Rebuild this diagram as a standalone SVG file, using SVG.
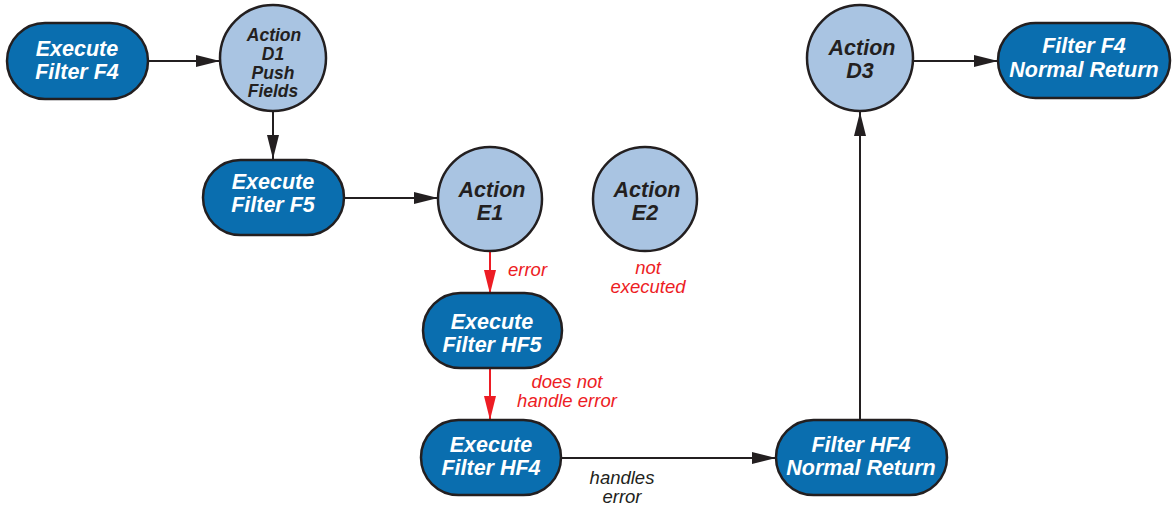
<svg xmlns="http://www.w3.org/2000/svg" width="1173" height="506" viewBox="0 0 1173 506">
  <defs>
    <marker id="ah" viewBox="0 0 24 12" refX="24" refY="6" markerWidth="24" markerHeight="12" markerUnits="userSpaceOnUse" orient="auto">
      <path d="M0,0 L24,6 L0,12 Z" fill="#231f20"/>
    </marker>
    <marker id="ahr" viewBox="0 0 24 12" refX="24" refY="6" markerWidth="24" markerHeight="12" markerUnits="userSpaceOnUse" orient="auto">
      <path d="M0,0 L24,6 L0,12 Z" fill="#ed1c24"/>
    </marker>
    <style>
      .pill { fill: #0a6eaf; stroke: #231f20; stroke-width: 2.5; }
      .act { fill: #a9c4e2; stroke: #231f20; stroke-width: 2.5; }
      .pt { font-family: "Liberation Sans", Arial, sans-serif; font-weight: bold; font-style: italic; font-size: 21.5px; fill: #ffffff; text-anchor: middle; }
      .at { font-family: "Liberation Sans", Arial, sans-serif; font-weight: bold; font-style: italic; font-size: 21.5px; fill: #231f20; text-anchor: middle; }
      .small { font-size: 17.5px; }
      .lbl { font-family: "Liberation Sans", Arial, sans-serif; font-style: italic; font-size: 18.5px; text-anchor: middle; }
      .red { fill: #ed1c24; }
      .blk { fill: #231f20; }
      .cn { fill: none; stroke: #231f20; stroke-width: 2; }
      .cr { fill: none; stroke: #ed1c24; stroke-width: 2; }
    </style>
  </defs>

  <!-- connectors -->
  <g id="connectors">
    <line class="cn" x1="148" y1="61" x2="220" y2="61" marker-end="url(#ah)"/>
    <line class="cn" x1="273" y1="112" x2="273" y2="159" marker-end="url(#ah)"/>
    <line class="cn" x1="344" y1="198" x2="438" y2="198" marker-end="url(#ah)"/>
    <line class="cr" x1="490" y1="252" x2="490" y2="294" marker-end="url(#ahr)"/>
    <line class="cr" x1="490" y1="368" x2="490" y2="420" marker-end="url(#ahr)"/>
    <line class="cn" x1="561" y1="458" x2="776" y2="458" marker-end="url(#ah)"/>
    <line class="cn" x1="860" y1="420" x2="860" y2="112" marker-end="url(#ah)"/>
    <line class="cn" x1="913" y1="61" x2="998" y2="61" marker-end="url(#ah)"/>
    <text class="lbl red" x="508" y="276" style="text-anchor:start">error</text>
    <text class="lbl red" x="567" y="388">does not</text>
    <text class="lbl red" x="567" y="407">handle error</text>
    <text class="lbl blk" x="622" y="484">handles</text>
    <text class="lbl blk" x="622" y="503">error</text>
  </g>

  <g id="exec-f4">
    <rect class="pill" x="7" y="23" width="141" height="76" rx="38"/>
    <text class="pt" x="77" y="56">Execute</text>
    <text class="pt" x="77" y="79">Filter F4</text>
  </g>

  <g id="action-d1">
    <circle class="act" cx="273" cy="58" r="53"/>
    <text class="at small" x="274" y="41">Action</text>
    <text class="at small" x="273" y="60">D1</text>
    <text class="at small" x="273" y="79">Push</text>
    <text class="at small" x="273" y="97">Fields</text>
  </g>

  <g id="exec-f5">
    <rect class="pill" x="203" y="160" width="141" height="75" rx="37.5"/>
    <text class="pt" x="273" y="189">Execute</text>
    <text class="pt" x="273" y="212">Filter F5</text>
  </g>

  <g id="action-e1">
    <circle class="act" cx="490" cy="199" r="52"/>
    <text class="at" x="492" y="197">Action</text>
    <text class="at" x="490" y="220">E1</text>
  </g>

  <g id="action-e2">
    <circle class="act" cx="645" cy="199" r="52"/>
    <text class="at" x="647" y="197">Action</text>
    <text class="at" x="645" y="220">E2</text>
    <text class="lbl red" x="648" y="274">not</text>
    <text class="lbl red" x="648" y="293">executed</text>
  </g>

  <g id="exec-hf5">
    <rect class="pill" x="423" y="293" width="139" height="75" rx="37.5"/>
    <text class="pt" x="492" y="329">Execute</text>
    <text class="pt" x="492" y="352">Filter HF5</text>
  </g>

  <g id="exec-hf4">
    <rect class="pill" x="421" y="420" width="140" height="75" rx="37.5"/>
    <text class="pt" x="491" y="452">Execute</text>
    <text class="pt" x="491" y="475">Filter HF4</text>
  </g>

  <g id="hf4-return">
    <rect class="pill" x="776" y="420" width="171" height="75" rx="37.5"/>
    <text class="pt" x="861" y="452">Filter HF4</text>
    <text class="pt" x="861" y="475">Normal Return</text>
  </g>

  <g id="action-d3">
    <circle class="act" cx="860" cy="58" r="53"/>
    <text class="at" x="862" y="55">Action</text>
    <text class="at" x="860" y="78">D3</text>
  </g>

  <g id="f4-return">
    <rect class="pill" x="998" y="23" width="172" height="75" rx="37.5"/>
    <text class="pt" x="1084" y="53">Filter F4</text>
    <text class="pt" x="1084" y="77">Normal Return</text>
  </g>
</svg>
